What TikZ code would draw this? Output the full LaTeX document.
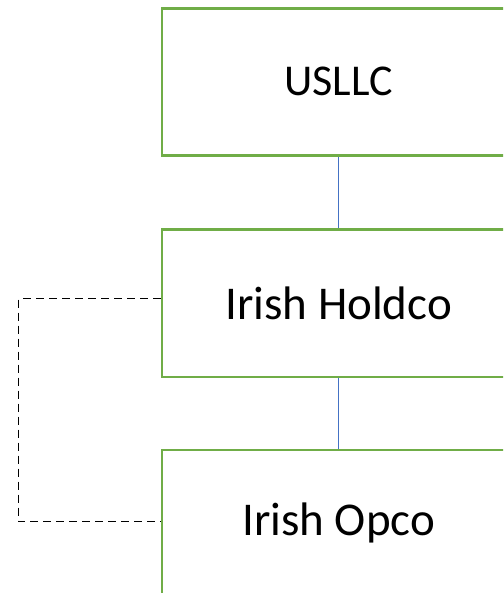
\documentclass[tikz,border=0pt]{standalone}
\usepackage{fontspec}
\setmainfont{Carlito}
\definecolor{boxgreen}{HTML}{70AD47}
\definecolor{linkblue}{HTML}{4472C4}
\begin{document}
\begin{tikzpicture}[x=1pt,y=-1pt,
  entity/.style={draw=boxgreen,line width=2.8pt,fill=white,rectangle,inner sep=0pt,
    minimum width=353.5pt,minimum height=147pt,anchor=north west},
  link/.style={draw=linkblue,line width=1.4pt},
  ctrl/.style={draw=black,line width=1.4pt,dash pattern=on 8pt off 5pt}]
\useasboundingbox (0,0) rectangle (503,593);
\clip (0,0) rectangle (503,593);
\node[entity] (us) at (160.5,7.5) {};
\node[entity] (hold) at (160.5,228.5) {};
\node[entity] (opco) at (160.5,448.5) {};
\node[font=\fontsize{44}{52}\selectfont] (ust) at ([yshift=1pt]us.center) {USLLC};
\node[font=\fontsize{47}{55}\selectfont] (holdt) at (hold.center) {Irish Holdco};
\node[font=\fontsize{47}{55}\selectfont] (opcot) at (opco.center) {Irish Opco};
\draw[link] (us.south) -- (hold.north);
\draw[link] (hold.south) -- (opco.north);
\draw[ctrl] ([yshift=4.7pt]hold.west) -- ++(-142.2pt,0) |- ([yshift=1.7pt]opco.west);
\end{tikzpicture}
\end{document}
